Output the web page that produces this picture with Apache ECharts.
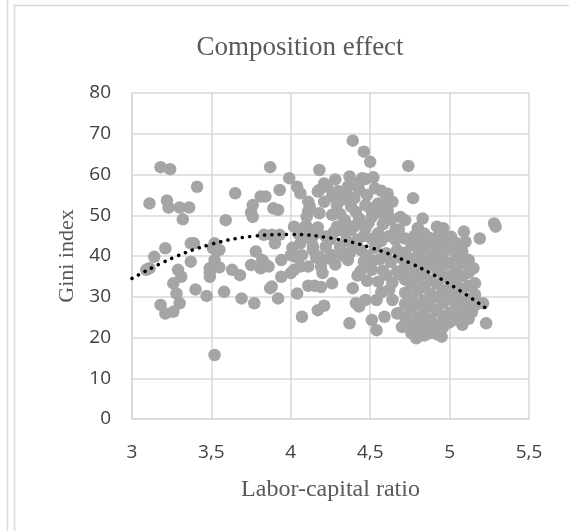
<!DOCTYPE html>
<html>
<head>
<meta charset="utf-8">
<script src="https://cdn.jsdelivr.net/npm/echarts@6/dist/echarts.min.js"></script>
<style>
  html, body { margin: 0; padding: 0; background: #fff; }
  #chart { width: 569px; height: 531px; }
</style>
</head>
<body>
<div id="chart"></div>
<script>
// labor-capital ratio / Gini index pairs
const leftGroup = [
  [3.11, 52.9], [3.18, 61.8], [3.24, 61.3], [3.22, 53.6], [3.23, 51.9], [3.30, 51.9], [3.36, 51.9],
  [3.32, 49.0], [3.41, 57.0], [3.21, 41.9], [3.14, 39.8], [3.11, 37.0], [3.09, 36.6], [3.37, 43.1],
  [3.39, 43.1], [3.37, 38.6], [3.29, 36.6], [3.31, 34.9], [3.26, 33.3], [3.28, 30.8], [3.30, 28.4],
  [3.18, 28.0], [3.21, 25.9], [3.26, 26.3], [3.40, 31.8], [3.47, 30.2], [3.49, 35.8], [3.49, 34.9],
  [3.51, 41.9], [3.52, 43.1], [3.55, 41.5], [3.52, 39.0], [3.55, 37.2], [3.49, 37.0], [3.58, 31.2],
  [3.63, 36.6], [3.68, 35.3], [3.69, 29.6], [3.77, 28.4], [3.75, 37.8], [3.81, 37.0], [3.83, 38.4],
  [3.78, 41.1], [3.82, 39.0], [3.87, 32.1], [3.52, 15.7], [3.59, 48.8], [3.65, 55.4], [3.76, 52.5],
  [3.75, 50.7], [3.76, 49.6], [3.81, 54.6], [3.84, 54.6], [3.87, 61.8], [3.93, 56.2], [3.89, 51.7],
  [3.92, 51.3], [3.83, 45.2], [3.88, 45.2], [3.93, 45.2], [3.90, 43.1], [3.94, 39.0], [3.86, 37.4],
  [3.88, 32.5], [3.92, 29.6], [3.94, 34.9]
];

const centerGroup = [
  [3.99, 59.1], [4.04, 57.0], [4.06, 55.4], [4.12, 52.1], [4.10, 47.2], [4.08, 44.7], [4.02, 47.2],
  [4.14, 42.3], [4.18, 39.8], [4.20, 35.8], [4.06, 37.4], [4.00, 35.8], [4.03, 39.8], [4.07, 40.2],
  [4.01, 42.0], [4.06, 43.1], [4.00, 40.2], [4.02, 36.6], [4.11, 37.4], [4.04, 30.8], [4.07, 25.1],
  [4.17, 26.7], [4.21, 27.8], [4.11, 32.7], [4.15, 32.7], [4.19, 32.4], [4.26, 33.3], [4.18, 61.1],
  [4.18, 56.2], [4.21, 57.8], [4.17, 55.8], [4.23, 57.0], [4.26, 54.6], [4.28, 58.8], [4.11, 53.3],
  [4.21, 53.3], [4.29, 52.5], [4.11, 51.0], [4.10, 49.6], [4.18, 50.5], [4.26, 50.1], [4.09, 47.2],
  [4.17, 47.0], [4.29, 47.2], [4.14, 41.5], [4.22, 42.3], [4.31, 42.3], [4.16, 39.6], [4.26, 40.2],
  [4.19, 37.4], [4.22, 44.8], [4.15, 45.3], [4.35, 55.4], [4.43, 56.2], [4.37, 59.5], [4.45, 59.1],
  [4.52, 59.3], [4.47, 58.9], [4.53, 56.6], [4.38, 52.1], [4.47, 52.5], [4.55, 52.9], [4.64, 53.3],
  [4.59, 53.3], [4.34, 48.8], [4.43, 49.2], [4.51, 49.6], [4.63, 48.8], [4.69, 49.6], [4.62, 49.6],
  [4.38, 46.4], [4.47, 46.8], [4.55, 45.6], [4.66, 46.4], [4.37, 40.7], [4.44, 41.5], [4.53, 42.0],
  [4.60, 40.7], [4.67, 41.5], [4.36, 39.0], [4.46, 38.6], [4.51, 36.6], [4.39, 68.3], [4.46, 65.6],
  [4.50, 63.1], [4.74, 62.1], [4.77, 54.2], [4.39, 32.1], [4.43, 27.6], [4.37, 23.5], [4.47, 29.2],
  [4.51, 24.3], [4.54, 21.8], [4.59, 25.1], [4.64, 29.2], [4.62, 31.7], [4.41, 28.4], [4.54, 29.2],
  [4.67, 25.9], [4.71, 22.7], [4.68, 26.0],
  [4.27, 45.8], [4.31, 50.3], [4.33, 53.9], [4.36, 57.1], [4.40, 54.2], [4.41, 50.8], [4.40, 47.3],
  [4.42, 44.0], [4.39, 42.6], [4.44, 36.3], [4.48, 55.0], [4.50, 51.7], [4.49, 48.1], [4.51, 44.2],
  [4.48, 40.1], [4.56, 39.2], [4.57, 43.7], [4.58, 47.8], [4.56, 50.6], [4.61, 51.2], [4.62, 44.9],
  [4.63, 38.5], [4.66, 43.9], [4.69, 39.6], [4.67, 36.2], [4.60, 35.4], [4.55, 33.7], [4.48, 33.9],
  [4.42, 35.2], [4.35, 43.8], [4.33, 40.1], [4.28, 37.9], [4.24, 39.4], [4.25, 44.1], [4.30, 55.9],
  [4.43, 58.0], [4.57, 56.0], [4.61, 55.3], [4.58, 36.4], [4.52, 38.9], [4.46, 44.9], [4.33, 46.1],
  [4.64, 33.5], [4.70, 35.4], [4.57, 31.1], [4.13, 44.0], [4.05, 45.4]
];

const rightGroup = [
  [4.83, 49.2], [4.72, 48.8], [4.92, 47.2], [4.96, 46.8], [5.09, 46.0], [5.28, 48.0], [5.29, 47.2],
  [5.19, 44.3], [5.10, 43.5], [5.01, 44.7], [4.95, 45.0], [4.86, 44.7], [4.78, 45.0], [4.68, 46.5],
  [4.81, 42.7], [4.90, 42.3], [4.95, 41.7], [5.06, 39.8], [5.23, 23.5], [5.21, 28.4], [5.16, 33.3],
  [5.15, 37.0], [5.08, 23.1], [5.14, 26.2], [4.95, 20.2], [4.79, 19.8], [4.87, 21.0], [4.70, 22.6],
  [4.72, 44.3], [4.72, 40.8], [4.72, 37.6], [4.72, 34.2], [4.72, 31.0], [4.72, 28.3], [4.72, 25.1],
  [4.76, 42.6], [4.76, 39.2], [4.76, 36.1], [4.76, 33.0], [4.76, 29.8], [4.76, 26.7], [4.76, 23.4], [4.76, 21.0],
  [4.80, 46.9], [4.80, 43.9], [4.80, 40.2], [4.80, 37.5], [4.80, 34.6], [4.80, 31.4], [4.80, 28.1], [4.80, 24.8], [4.80, 22.2],
  [4.84, 45.5], [4.84, 41.8], [4.84, 38.6], [4.84, 35.7], [4.84, 32.5], [4.84, 29.1], [4.84, 26.3], [4.84, 23.6], [4.84, 20.5],
  [4.88, 43.9], [4.88, 40.7], [4.88, 37.9], [4.88, 34.0], [4.88, 30.8], [4.88, 27.7], [4.88, 24.5], [4.88, 21.9],
  [4.92, 44.6], [4.92, 39.5], [4.92, 36.4], [4.92, 33.2], [4.92, 29.9], [4.92, 26.6], [4.92, 23.2], [4.92, 20.8],
  [4.96, 43.0], [4.96, 39.1], [4.96, 37.8], [4.96, 34.8], [4.96, 31.6], [4.96, 28.5], [4.96, 25.3], [4.96, 22.6],
  [5.00, 41.6], [5.00, 38.3], [5.00, 35.2], [5.00, 32.3], [5.00, 29.4], [5.00, 26.1], [5.00, 23.7],
  [5.04, 43.2], [5.04, 40.6], [5.04, 36.8], [5.04, 33.9], [5.04, 30.4], [5.04, 27.3], [5.04, 24.4],
  [5.08, 41.1], [5.08, 38.2], [5.08, 35.1], [5.08, 31.9], [5.08, 28.8], [5.08, 25.6],
  [5.12, 39.0], [5.12, 35.9], [5.12, 32.7], [5.12, 29.6], [5.12, 26.9], [5.12, 24.6],
  [5.16, 30.5], [5.16, 27.9]
];

// dotted polynomial trendline
const trendX = [3, 3.25, 3.5, 3.75, 4, 4.25, 4.5, 4.75, 5, 5.25];
const trendY = [34.5, 39.4, 42.9, 44.8, 45.3, 44.4, 42.1, 38.3, 33.1, 26.6];

const chart = echarts.init(document.getElementById('chart'));

const gridColor = '#d9d9d9';
const textColor = '#595959';
const serif = '"Liberation Serif", "DejaVu Serif", serif';
const sans = '"Open Sans", "Noto Sans", sans-serif';

const option = {
  animation: false,
  backgroundColor: '#fff',
  title: {
    text: 'Composition effect',
    left: 295,
    top: 29,
    textAlign: 'center',
    textStyle: { fontFamily: serif, fontSize: 27, fontWeight: 'normal', color: textColor }
  },
  graphic: [
    { type: 'line', shape: { x1: 7.5, y1: 0, x2: 7.5, y2: 531 }, style: { stroke: gridColor, lineWidth: 1.5 } },
    { type: 'rect', shape: { x: 14.5, y: 5.5, width: 700, height: 700 }, style: { stroke: gridColor, fill: null, lineWidth: 1.5 } }
  ],
  grid: { left: 132, right: 40, top: 93, bottom: 112 },
  xAxis: {
    type: 'value',
    min: 3,
    max: 5.5,
    interval: 0.5,
    name: 'Labor-capital ratio',
    nameLocation: 'middle',
    nameGap: 59,
    nameTextStyle: { fontFamily: serif, fontSize: 24, color: textColor },
    axisLine: { lineStyle: { color: gridColor, width: 1.5 } },
    axisTick: { show: false },
    axisLabel: {
      margin: 24,
      fontFamily: sans,
      fontSize: 19,
      color: '#404040',
      formatter: v => String(v).replace('.', ',')
    },
    splitLine: { show: true, lineStyle: { color: gridColor, width: 1.5 } }
  },
  yAxis: {
    type: 'value',
    min: 0,
    max: 80,
    interval: 10,
    name: 'Gini index',
    nameLocation: 'middle',
    nameGap: 52,
    nameTextStyle: { fontFamily: serif, fontSize: 22, color: textColor },
    axisLine: { show: true, lineStyle: { color: gridColor, width: 1.5 } },
    axisTick: { show: false },
    axisLabel: { margin: 21, fontFamily: sans, fontSize: 19, color: '#404040' },
    splitLine: { show: true, lineStyle: { color: gridColor, width: 1.5 } }
  },
  series: [
    {
      type: 'scatter',
      data: leftGroup.concat(centerGroup, rightGroup),
      symbolSize: 12.5,
      itemStyle: { color: '#a5a5a5', opacity: 1 },
      z: 2
    },
    {
      type: 'line',
      data: trendX.map((x, i) => [x, trendY[i]]),
      showSymbol: false,
      smooth: 0.4,
      lineStyle: { color: '#000', width: 3.5, type: [0.1, 7.3], cap: 'round' },
      z: 3
    }
  ]
};

chart.setOption(option);
</script>
</body>
</html>
